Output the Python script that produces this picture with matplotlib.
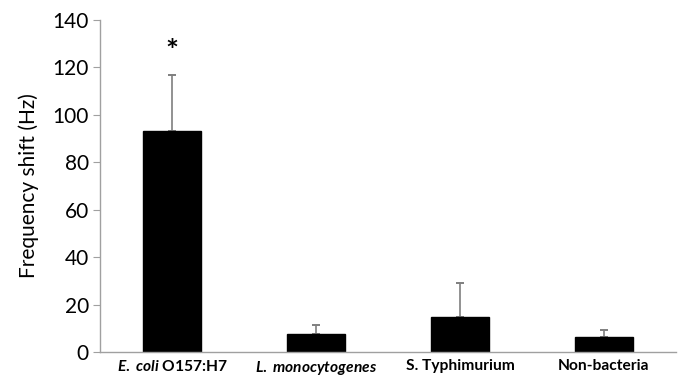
import matplotlib
matplotlib.use("Agg")
import matplotlib.pyplot as plt
import numpy as np

# data
categories = [r"$\mathit{E.}$ $\mathit{coli}$ O157:H7",
              r"$\mathit{L.}$ $\mathit{monocytogenes}$",
              "S. Typhimurium", "Non-bacteria"]
shift = [93.2, 7.5, 14.9, 6.5]
err_up = [23.6, 3.9, 14.1, 2.8]
star_idx = 0
star_y = 126.5

plt.rcParams['font.family'] = ['Lato', 'DejaVu Sans']
plt.rcParams['mathtext.fontset'] = 'custom'
plt.rcParams['mathtext.it'] = 'Lato:italic:bold'
plt.rcParams['mathtext.rm'] = 'Lato:bold'

fig = plt.figure(figsize=(6.82, 3.76), dpi=100)
ax = fig.add_axes([0.1466, 0.0638, 0.8446, 0.883])

x = np.arange(len(categories))
ax.bar(x, shift, width=0.4, color='black', edgecolor='black', zorder=2)
ax.errorbar(x, shift, yerr=[np.zeros(len(x)), err_up], fmt='none',
            ecolor='#7f7f7f', elinewidth=1.2, capsize=3, capthick=1.4, zorder=1)
ax.text(x[star_idx], star_y, '*', ha='center', va='center',
        fontsize=22, fontweight='bold')

ax.set_xlim(-0.5, 3.5)
ax.set_ylim(0, 140)
ax.set_yticks(np.arange(0, 141, 20))
ax.set_xticks(x)
ax.set_xticklabels(categories, fontsize=11.2, fontweight='bold')
ax.tick_params(axis='x', length=0, pad=5)
ax.tick_params(axis='y', length=5, color='#a0a0a0', labelsize=15, pad=3)
ax.set_ylabel('Frequency shift (Hz)', fontsize=15, labelpad=10)

for s in ['top', 'right']:
    ax.spines[s].set_visible(False)
for s in ['left', 'bottom']:
    ax.spines[s].set_color('#a0a0a0')
    ax.spines[s].set_linewidth(1)

fig.savefig('out.png', dpi=100)
